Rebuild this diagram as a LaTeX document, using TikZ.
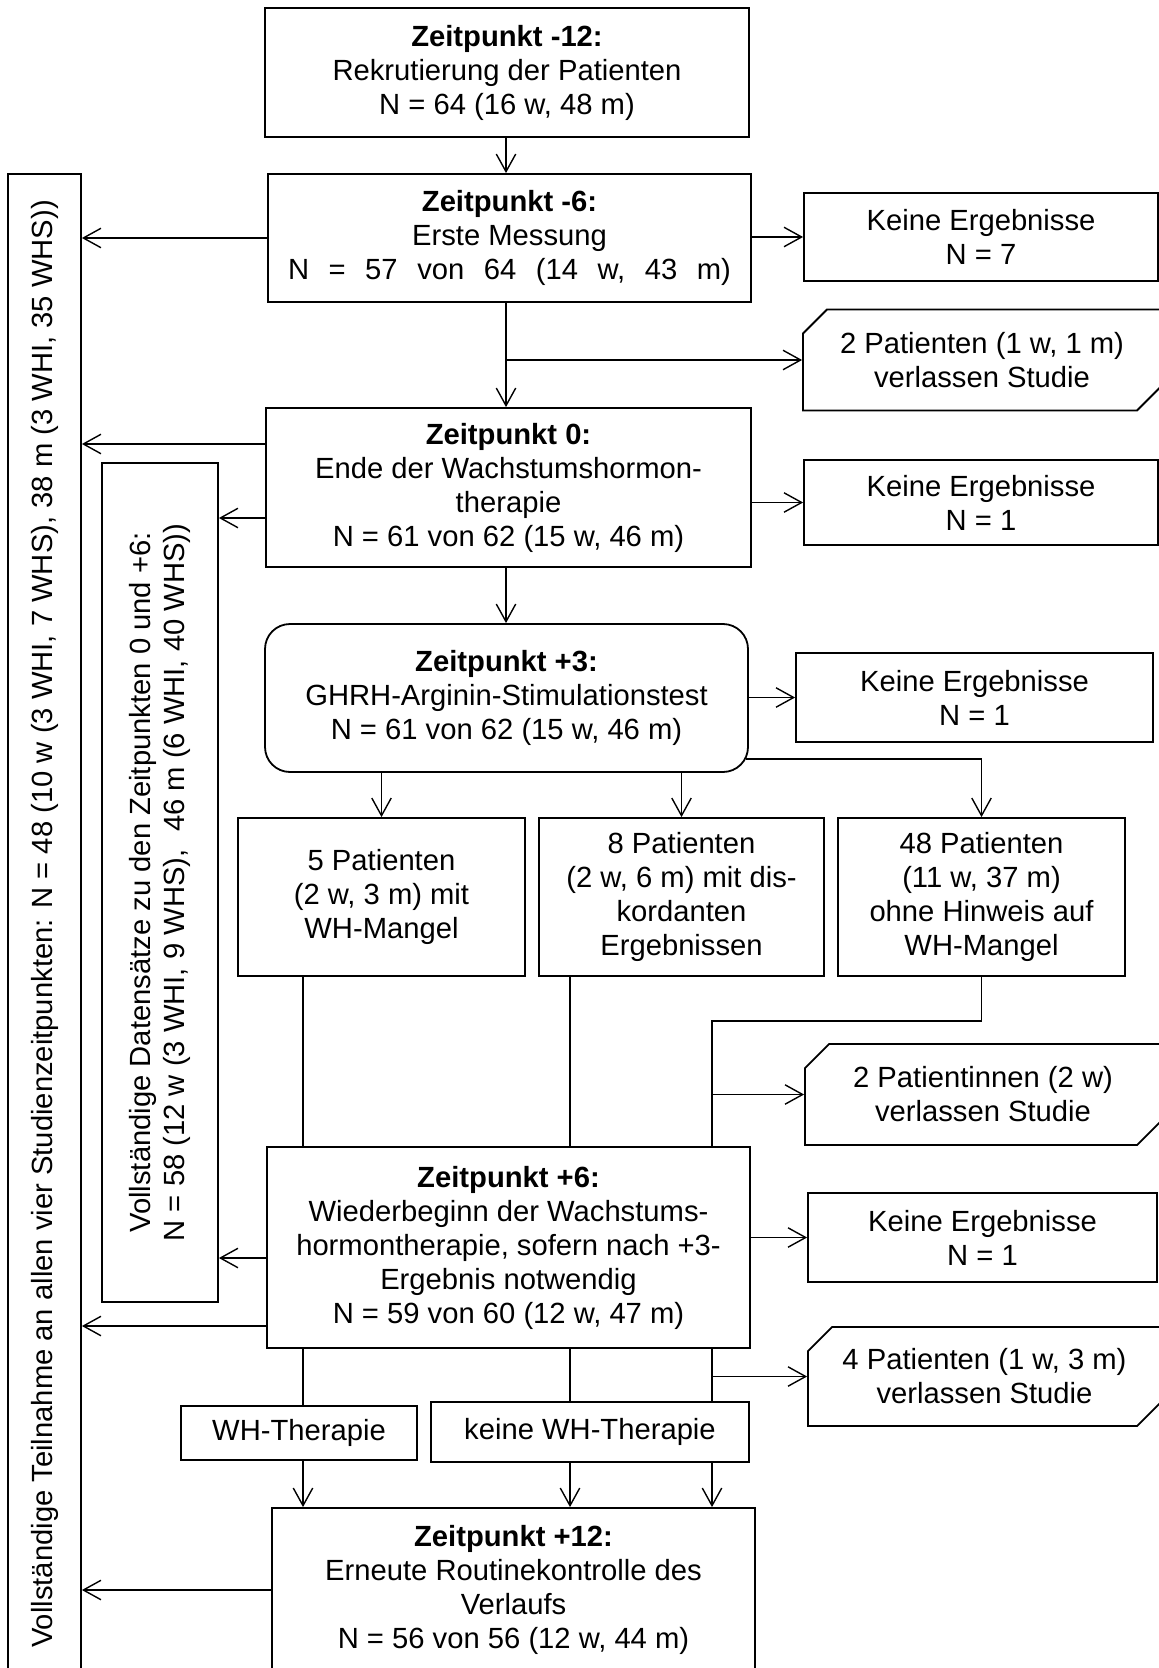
\documentclass[tikz,border=0pt]{standalone}
\usepackage{fontspec}
\setmainfont{Liberation Sans}
\usetikzlibrary{arrows.meta}
\usetikzlibrary{shapes.misc}
\newcommand{\wsp}{\hspace{0.67em}}
\tikzset{
	box/.style 2 args={draw=black, line width=0.9pt, align=center, inner sep=2pt, minimum width=#1*0.5pt, minimum height=#2*0.5pt},
	roundbox/.style 2 args={box={#1}{#2}, rounded corners=12.5pt},
	exitbox/.style 2 args={box={#1}{#2}, chamfered rectangle, chamfered rectangle corners={north west, south east}, chamfered rectangle xsep=6pt, chamfered rectangle ysep=6pt}
}
\begin{document}
\begin{tikzpicture}[x=0.5pt, y=-0.5pt, every node/.style={font=\fontsize{14.6}{17}\selectfont}, flow/.style={line width=0.7pt, -{Straight Barb[length=8.8pt, width=9.7pt]}}, link/.style={line width=0.7pt}]

	\useasboundingbox (0, 0) rectangle (1159, 1668);
	\clip (0, 0) rectangle (1159, 1668);

	\node[box={484}{129}]		(t12)	at (507, 72.5)		{\textbf{Zeitpunkt -12:}\\Rekrutierung der Patienten\\N = 64 (16 w, 48 m)};
	\node[box={483}{128}]		(t6)	at (509.5, 238)		{\textbf{Zeitpunkt -6:}\\Erste Messung\\N\wsp=\wsp 57\wsp von\wsp 64\wsp (14\wsp w,\wsp 43\wsp m)};
	\node[box={354}{88}]		(ke1)	at (981, 237)		{Keine Ergebnisse\\N = 7};
	\node[exitbox={358}{101}]	(drop1)	at (982, 360)		{2 Patienten (1 w, 1 m)\\verlassen Studie};
	\node[box={485}{159}]		(t0)	at (508.5, 487.5)	{\textbf{Zeitpunkt 0:}\\Ende der Wachstumshormon-\\therapie\\N = 61 von 62 (15 w, 46 m)};
	\node[box={354}{85}]		(ke2)	at (981, 502.5)		{Keine Ergebnisse\\N = 1};
	\node[roundbox={483}{148}]	(t3)	at (506.5, 698)		{\textbf{Zeitpunkt +3:}\\GHRH-Arginin-Stimulationstest\\N = 61 von 62 (15 w, 46 m)};
	\node[box={357}{89}]		(ke3)	at (974.5, 697.5)	{Keine Ergebnisse\\N = 1};

	\node[box={287}{158}]		(p1)	at (381.5, 897)		{5 Patienten\\(2 w, 3 m) mit\\WH-Mangel};
	\node[box={285}{158}]		(p2)	at (681.5, 897)		{8 Patienten\\(2 w, 6 m) mit dis-\\kordanten\\Ergebnissen};
	\node[box={287}{158}]		(p3)	at (981.5, 897)		{48 Patienten\\(11 w, 37 m)\\ohne Hinweis auf\\WH-Mangel};

	\node[exitbox={356}{101}]	(drop2)	at (983, 1094.5)	{2 Patientinnen (2 w)\\verlassen Studie};
	\node[box={483}{201}]		(t6b)	at (508.5, 1247.5)	{\textbf{Zeitpunkt +6:}\\Wiederbeginn der Wachstums-\\hormontherapie, sofern nach +3-\\Ergebnis notwendig\\N = 59 von 60 (12 w, 47 m)};
	\node[box={349}{89}]		(ke4)	at (982.5, 1237.5)	{Keine Ergebnisse\\N = 1};
	\node[exitbox={353}{99}]	(drop3)	at (984.5, 1376.5)	{4 Patienten (1 w, 3 m)\\verlassen Studie};
	\node[box={236}{54}]		(wh)	at (299, 1433)		{WH-Therapie};
	\node[box={318}{60}]		(kwh)	at (590, 1432)		{keine WH-Therapie};
	\node[box={483}{164}]		(t12b)	at (513.5, 1590)	{\textbf{Zeitpunkt +12:}\\Erneute Routinekontrolle des\\Verlaufs\\N = 56 von 56 (12 w, 44 m)};

	% bars on the left
	\node[box={73}{1500}]		(allbar)	at (44.5, 924)		{};
	\node[rotate=90]		(allbartext)	at (allbar.center)	{Vollständige Teilnahme an allen vier Studienzeitpunkten: N = 48 (10 w (3 WHI, 7 WHS), 38 m (3 WHI, 35 WHS))};
	\node[box={116}{839}]		(databar)	at (160, 882.5)		{};
	\node[rotate=90, align=center]	(databartext)	at (databar.center)	{Vollständige Datensätze zu den Zeitpunkten 0 und +6:\\N = 58 (12 w (3 WHI, 9 WHS),\hspace{0.6em}46 m (6 WHI, 40 WHS))};

	\coordinate (xm) at (506, 0);
	\coordinate (xa) at (303, 0);
	\coordinate (xb) at (570, 0);
	\coordinate (xc) at (712, 0);
	\coordinate (j1) at (712, 1021);
	\coordinate (r0a) at (0, 444);
	\coordinate (r0b) at (0, 518);
	\coordinate (r6a) at (0, 1258);
	\coordinate (r6b) at (0, 1326);
	\coordinate (r3) at (0, 759);

	\draw[flow] (t12.south -| xm) -- (t6.north -| xm);
	\draw[flow] (t6.south -| xm) -- (t0.north -| xm);
	\draw[flow] (drop1.west -| xm) -- (drop1.west);
	\draw[flow] (t0.south -| xm) -- (t3.north -| xm);

	\draw[flow] (ke1.west -| t6.east) -- (ke1.west);
	\draw[flow] (ke2.west -| t0.east) -- (ke2.west);
	\draw[flow] (ke3.west -| t3.east) -- (ke3.west);
	\draw[flow] (ke4.west -| t6b.east) -- (ke4.west);

	% complete data
	\draw[flow] (t6.west) -- (t6.west -| allbar.east);
	\draw[flow] (t0.west |- r0a) -- (allbar.east |- r0a);
	\draw[flow] (t0.west |- r0b) -- (databar.east |- r0b);
	\draw[flow] (t6b.west |- r6a) -- (databar.east |- r6a);
	\draw[flow] (t6b.west |- r6b) -- (allbar.east |- r6b);
	\draw[flow] (t12b.west) -- (t12b.west -| allbar.east);

	% test results
	\draw[flow] (t3.south -| p1.north) -- (p1.north);
	\draw[flow] (t3.south -| p2.north) -- (p2.north);
	\draw[flow] ([xshift=-1.5pt]t3.east |- r3) -| (p3.north);

	\draw[link] (p1.south -| xa) -- (t6b.north -| xa);
	\draw[link] (p2.south -| xb) -- (t6b.north -| xb);
	\draw[link] (p3.south) |- (j1) -- (j1 |- t6b.north);
	\draw[flow] (j1 |- drop2.west) -- (drop2.west);

	% therapy
	\draw[link] (t6b.south -| xa) -- (wh.north -| xa);
	\draw[flow] (wh.south -| xa) -- (t12b.north -| xa);
	\draw[link] (t6b.south -| xb) -- (kwh.north -| xb);
	\draw[flow] (kwh.south -| xb) -- (t12b.north -| xb);
	\draw[link] (t6b.south -| xc) -- (kwh.north -| xc);
	\draw[flow] (kwh.south -| xc) -- (t12b.north -| xc);
	\draw[flow] (drop3.west -| xc) -- (drop3.west);

\end{tikzpicture}
\end{document}
